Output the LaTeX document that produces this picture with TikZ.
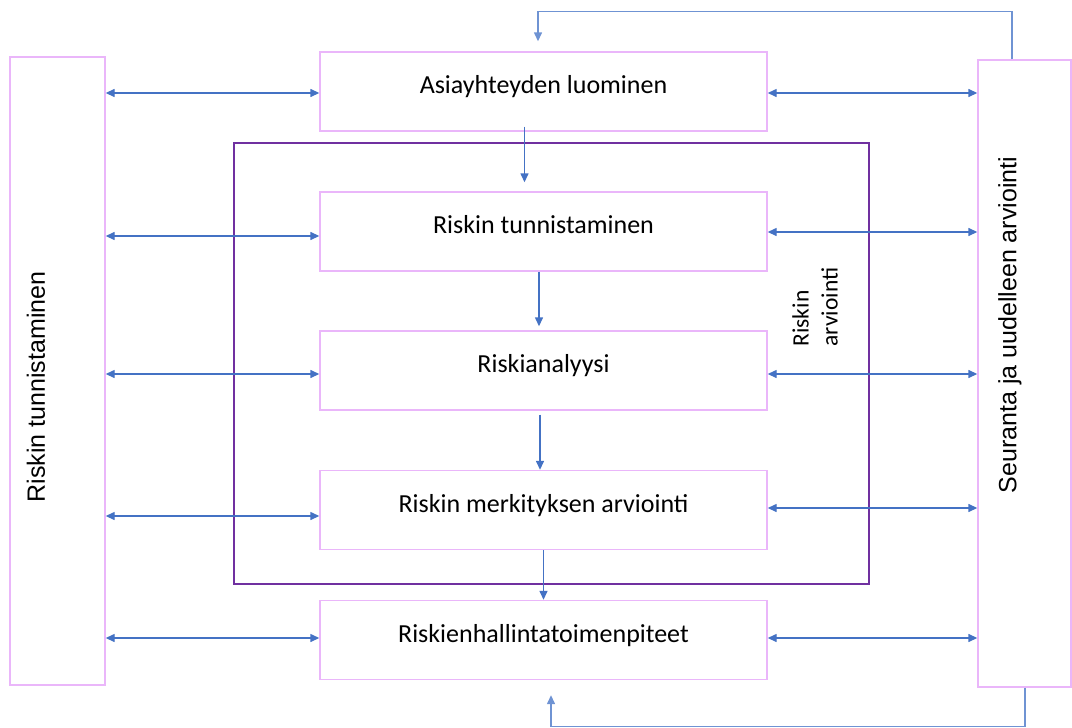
\documentclass[tikz,border=0pt]{standalone}
\usepackage{fontspec}
\setmainfont{Carlito}
\newfontfamily\arialfont{Liberation Sans}
\usetikzlibrary{arrows.meta,calc}
\definecolor{boxline}{HTML}{EAB6FA}
\definecolor{frameline}{HTML}{7030A0}
\definecolor{arrowblue}{HTML}{4472C4}
\definecolor{loopblue}{HTML}{6F93D3}
\tikzset{
  stepbox/.style={draw=boxline,line width=1.4pt,minimum width=447pt,minimum height=79pt,
    text height=12pt,text depth=8pt,font=\fontsize{26}{30}\selectfont},  % process box
  tallbox/.style={draw=boxline,line width=1.4pt,inner sep=0pt},
  talltext/.style={rotate=90,font=\arialfont\fontsize{25}{30}\selectfont},
  flow/.style={-{Triangle[length=9pt,width=8pt]},arrowblue,line width=1.4pt},
  both/.style={{Triangle[length=9pt,width=8pt]}-{Triangle[length=9pt,width=8pt]},arrowblue,line width=1.4pt},
  feedback/.style={-{Triangle[length=9pt,width=8pt]},loopblue,line width=1.4pt},
}
\begin{document}
\begin{tikzpicture}[x=1pt,y=-1pt]
  \useasboundingbox (0,0) rectangle (1072,728);
  % assessment frame
  \draw[frameline,line width=1.4pt] (234,143) rectangle (869,584);
  \node[rotate=90,align=left,font=\fontsize{23.5}{29}\selectfont] (frametext) at (815,307) {Riskin\\arviointi};
  % side boxes
  \node[tallbox,minimum width=95pt,minimum height=628pt] (leftbox) at (57.5,371) {};
  \node[talltext] (lefttext) at (36,387) {Riskin tunnistaminen};
  \node[tallbox,minimum width=93pt,minimum height=627pt] (rightbox) at (1024.5,373.5) {};
  \node[talltext] (righttext) at (1010,325) {Seuranta ja uudelleen arviointi};
  % process steps
  \node[stepbox] (ctx) at (543.5,91.5) {Asiayhteyden luominen};
  \node[stepbox] (ident) at (543.5,231.5) {Riskin tunnistaminen};
  \node[stepbox] (anal) at (543.5,370.5) {Riskianalyysi};
  \node[stepbox] (eval) at (543.5,510) {Riskin merkityksen arviointi};
  \node[stepbox] (treat) at (543.5,640) {Riskienhallintatoimenpiteet};
  \draw[flow] ([xshift=-19pt,yshift=5pt]ctx.south) -- ([xshift=-19pt,yshift=9pt]ident.north);
  \draw[flow] ([xshift=-4.5pt]ident.south) -- ([xshift=-4.5pt,yshift=4pt]anal.north);
  \draw[flow] ([xshift=-3.5pt,yshift=-4pt]anal.south) -- ([xshift=-3.5pt]eval.north);
  \draw[flow] (eval.south) -- (treat.north);
  \foreach \s/\dl/\dr in {ctx/-1.5/-1.5,ident/-4.5/-0.5,anal/-3.5/-3.5,eval/-6/2,treat/2/2}{
    \coordinate (lend) at ([yshift=\dl pt]\s.west);
    \coordinate (rend) at ([yshift=\dr pt]\s.east);
    \draw[both] (leftbox.east |- lend) -- (lend);
    \draw[both] (rend) -- (rightbox.west |- rend);
  }
  % feedback loops
  \draw[feedback] ([xshift=-12.5pt]rightbox.north) -- ++(0,-48) -| ([xshift=-5.5pt,yshift=10pt]ctx.north);
  \draw[feedback] ([xshift=0.5pt]rightbox.south) -- ++(0,39) -| ([xshift=7.5pt,yshift=-15pt]treat.south);
\end{tikzpicture}
\end{document}
